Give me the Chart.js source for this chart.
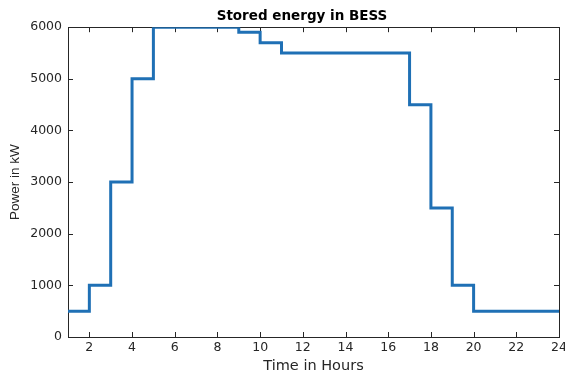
<!DOCTYPE html>
<html>
<head>
<meta charset="utf-8">
<script src="https://cdn.jsdelivr.net/npm/chart.js@4/dist/chart.umd.min.js"></script>
<style>
  html, body { margin: 0; padding: 0; background: #fff; }
  #wrap { width: 565px; height: 376px; position: relative; }
</style>
</head>
<body>
<div id="wrap"><canvas id="c"></canvas></div>
<script>
const hours = [1,2,3,4,5,6,7,8,9,10,11,12,13,14,15,16,17,18,19,20,21,22,23,24];
const storedEnergy = [500,1000,3000,5000,6000,6000,6000,6000,5900,5700,5500,5500,5500,5500,5500,5500,4500,2500,1000,500,500,500,500,500];
const xTickValues = [2,4,6,8,10,12,14,16,18,20,22,24];
const yTickValues = [0,1000,2000,3000,4000,5000,6000];

const tickFont = { family: 'DejaVu Sans', size: 12.5 };

const boxPlugin = {
  id: 'matlabBox',
  afterLayout(chart) {
    if (chart.titleBlock) { chart.titleBlock.left = 45; }
  },
  beforeDatasetsDraw(chart) {
    const { ctx, chartArea: a, scales } = chart;
    ctx.save();
    ctx.strokeStyle = '#262626';
    ctx.lineWidth = 1;
    const tl = 5;
    ctx.beginPath();
    scales.x.ticks.forEach(t => {
      const px = Math.round(scales.x.getPixelForValue(t.value)) + 0.5;
      ctx.moveTo(px, a.bottom); ctx.lineTo(px, a.bottom - tl);
      ctx.moveTo(px, a.top); ctx.lineTo(px, a.top + tl);
    });
    scales.y.ticks.forEach(t => {
      const py = Math.round(scales.y.getPixelForValue(t.value)) + 0.5;
      ctx.moveTo(a.left, py); ctx.lineTo(a.left + tl, py);
      ctx.moveTo(a.right, py); ctx.lineTo(a.right - tl, py);
    });
    ctx.stroke();
    ctx.strokeRect(Math.round(a.left) + 0.5, Math.round(a.top) + 0.5,
                   Math.round(a.right - a.left), Math.round(a.bottom - a.top));
    ctx.restore();
  }
};

new Chart(document.getElementById('c'), {
  type: 'line',
  data: {
    datasets: [{
      data: hours.map((h, i) => ({ x: h, y: storedEnergy[i] })),
      stepped: 'before',
      borderColor: '#1f70b5',
      borderWidth: 3,
      pointRadius: 0,
      fill: false,
      tension: 0
    }]
  },
  options: {
    responsive: true,
    maintainAspectRatio: false,
    animation: false,
    layout: { padding: { left: 0, right: 6, top: 0, bottom: 0 } },
    plugins: {
      legend: { display: false },
      tooltip: { enabled: false },
      title: {
        display: true,
        text: 'Stored energy in BESS',
        color: '#000',
        font: { family: 'DejaVu Sans', size: 13.5, weight: 'bold' },
        padding: { top: 8, bottom: 3 }
      }
    },
    scales: {
      x: {
        type: 'linear',
        min: 1, max: 24,
        afterBuildTicks(s) { s.ticks = xTickValues.map(v => ({ value: v })); },
        afterFit(s) { s.height = 39; s.paddingLeft = 0; s.paddingRight = 0; },
        grid: { display: false, drawTicks: false },
        border: { display: false },
        ticks: { color: '#262626', font: tickFont, padding: 3, maxRotation: 0, autoSkip: false,
                 callback: v => String(v) },
        title: {
          display: true, text: 'Time in Hours', color: '#262626',
          font: { family: 'DejaVu Sans', size: 14.5 },
          padding: { top: 0, bottom: 1 }
        }
      },
      y: {
        min: 0, max: 6000,
        afterBuildTicks(s) { s.ticks = yTickValues.map(v => ({ value: v })); },
        afterFit(s) { s.width = 68; s.paddingTop = 0; s.paddingBottom = 0; },
        grid: { display: false, drawTicks: false },
        border: { display: false },
        ticks: { color: '#262626', font: tickFont, padding: 6, autoSkip: false,
                 callback: v => String(v) },
        title: {
          display: true, text: 'Power in kW', color: '#262626',
          font: { family: 'Liberation Sans', size: 13.5 },
          padding: { top: 7, bottom: 0 }
        }
      }
    }
  },
  plugins: [boxPlugin]
});
</script>
</body>
</html>
